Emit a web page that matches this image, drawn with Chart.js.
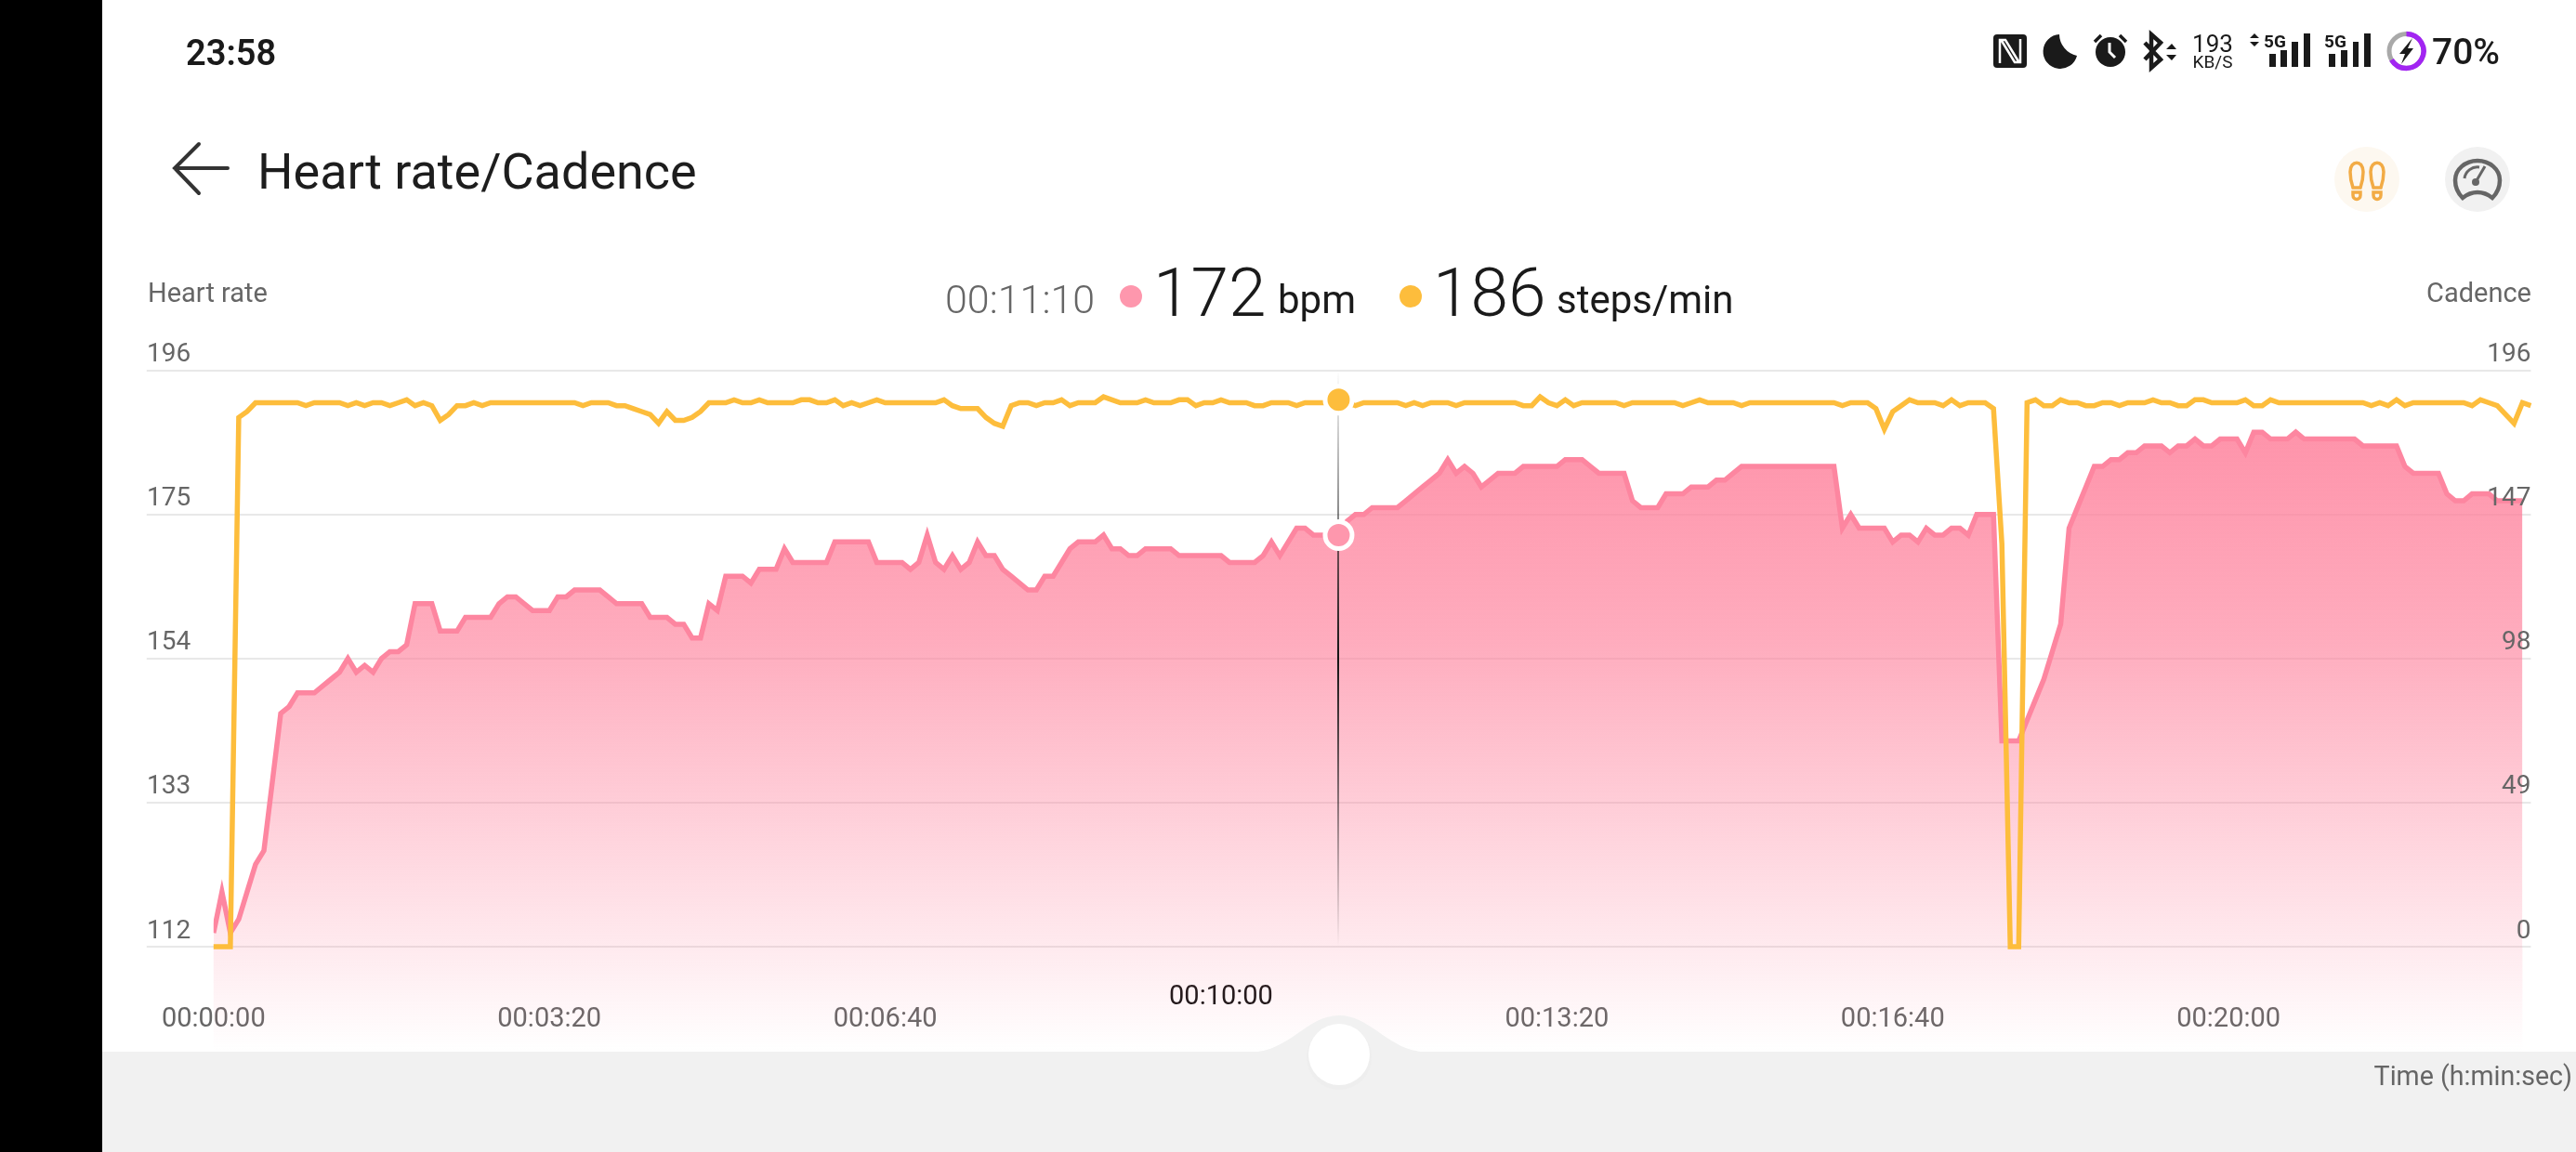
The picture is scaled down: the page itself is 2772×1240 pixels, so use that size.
<!DOCTYPE html>
<html>
<head>
<meta charset="utf-8">
<script src="https://cdn.jsdelivr.net/npm/chart.js@4/dist/chart.umd.min.js"></script>
<style>
  html, body { margin: 0; padding: 0; background: #fff; }
  body { width: 2772px; height: 1240px; overflow: hidden; position: relative; font-family: Roboto, sans-serif; }
  #myChart { position: absolute; left: 0; top: 0; }
  #overlay { position: absolute; left: 0; top: 0; pointer-events: none; }
  #overlay text { font-family: Roboto, sans-serif; }
</style>
</head>
<body>
<canvas id="myChart" width="2772" height="1240" style="width:2772px;height:1240px"></canvas>

<svg id="overlay" width="2772" height="1240" viewBox="0 0 2772 1240">
  <rect x="0" y="0" width="110" height="1240" fill="#000"/>

  <!-- bottom panel with slider -->
  <rect x="110" y="1132" width="2662" height="108" fill="#f1f1f1"/>
  <path d="M1346 1132.5 C1388 1132 1406 1093 1441 1093 C1476 1093 1494 1132 1536 1132.5 Z" fill="#f1f1f1"/>
  <circle cx="1441" cy="1138" r="35" fill="#ececec" opacity="0.6"/>
  <circle cx="1441" cy="1135" r="33" fill="#fff"/>
  <text x="2768" y="1168" text-anchor="end" font-size="28.6" fill="#666">Time (h:min:sec)</text>

  <!-- status bar -->
  <text x="200" y="70" font-size="38" font-weight="600" fill="#1a1a1a">23:58</text>
  <rect x="2145" y="37" width="36" height="36" rx="4" fill="#1a1a1a"/>
  <path d="M2152 68 V43 H2158 L2172 66 M2174 42 V67 H2168 L2154 44" fill="none" stroke="#fff" stroke-width="2.5"/>
  <path d="M2216 37 A18.5 18.5 0 1 0 2235 60 A24 24 0 0 1 2216 37 Z" fill="#1a1a1a"/>
  <circle cx="2271" cy="56" r="16" fill="#1a1a1a"/>
  <path d="M2270 46 V56 L2276 62" fill="none" stroke="#fff" stroke-width="3"/>
  <path d="M2254 45 L2261 38 M2288 45 L2281 38" stroke="#1a1a1a" stroke-width="3.5"/>
  <path d="M2308 46 L2325 64 L2315 73 V37 L2325 46 L2308 64" fill="none" stroke="#1a1a1a" stroke-width="4.5"/>
  <path d="M2331 53 L2337 47 L2342 53 Z M2331 59 L2337 65 L2342 59 Z" fill="#1a1a1a"/>
  <text x="2381" y="56" text-anchor="middle" font-size="26" fill="#1a1a1a">193</text>
  <text x="2381" y="73" text-anchor="middle" font-size="19" fill="#1a1a1a">KB/S</text>

  <path d="M2421 41 L2426 36 L2431 41 Z M2421 45 L2426 50 L2431 45 Z" fill="#1a1a1a"/>
  <text x="2436" y="51" font-size="19" font-weight="700" fill="#1a1a1a">5G</text>
  <rect x="2442" y="58" width="7" height="14" fill="#1a1a1a"/>
  <rect x="2454" y="54" width="7" height="18" fill="#1a1a1a"/>
  <rect x="2466" y="45" width="7" height="27" fill="#1a1a1a"/>
  <rect x="2479" y="36" width="7" height="36" fill="#1a1a1a"/>
  <text x="2501" y="51" font-size="19" font-weight="700" fill="#1a1a1a">5G</text>
  <rect x="2506" y="58" width="7" height="14" fill="#1a1a1a"/>
  <rect x="2519" y="54" width="7" height="18" fill="#1a1a1a"/>
  <rect x="2532" y="45" width="6" height="27" fill="#1a1a1a"/>
  <rect x="2544" y="36" width="7" height="36" fill="#1a1a1a"/>

  <circle cx="2589.5" cy="55" r="18.5" fill="none" stroke="#a9a9a9" stroke-width="5"/>
  <path d="M2589.5 36.5 A18.5 18.5 0 1 1 2573.5 64.3" fill="none" stroke="#a225f2" stroke-width="5.5"/>
  <path d="M2596 41 L2582 58 H2588 L2584 69 L2597 52 H2591 Z" fill="#1a1a1a"/>
  <text x="2617" y="69" font-size="39" font-weight="500" fill="#1a1a1a">70%</text>

  <!-- header -->
  <path d="M214 155 L188 181 L214 208 M188 181 H245" fill="none" stroke="#333" stroke-width="4" stroke-linecap="round"/>
  <text x="277" y="203" font-size="54" fill="#1d1d1d">Heart rate/Cadence</text>

  <circle cx="2547" cy="193" r="35" fill="#fdf8f0"/>
  <g fill="none" stroke="#f2ab45" stroke-width="3.5" transform="translate(0,3)">
    <path d="M2529 182 C2529 169 2543 169 2543 182 C2543 190 2541 196 2540 199 H2532 C2531 196 2529 190 2529 182 Z"/>
    <path d="M2532 204 H2540 V207 C2540 213 2532 213 2532 207 Z"/>
    <path d="M2551 182 C2551 169 2565 169 2565 182 C2565 190 2563 196 2562 199 H2554 C2553 196 2551 190 2551 182 Z"/>
    <path d="M2554 204 H2562 V207 C2562 213 2554 213 2554 207 Z"/>
  </g>
  <circle cx="2666" cy="193" r="35" fill="#f1f1f1"/>
  <g fill="none" stroke="#666" stroke-width="4.5">
    <path d="M2650 213 C2644 207 2642 200 2642 194 A24 21 0 0 1 2690 194 C2690 200 2688 207 2682 213 C2672 205 2660 205 2650 213 Z"/>
    <path d="M2652 192 A14 14 0 0 1 2668 180" stroke-width="3"/>
    <path d="M2664 196 L2674 179" stroke-width="3"/>
  </g>
  <circle cx="2664" cy="196" r="4" fill="#666"/>

  <!-- readout -->
  <text x="159" y="325" font-size="29" fill="#666">Heart rate</text>
  <text x="2724" y="325" text-anchor="end" font-size="29" fill="#666">Cadence</text>
  <text x="1017" y="337" font-size="43" font-weight="300" fill="#666">00:11:10</text>
  <circle cx="1217" cy="319" r="12" fill="#fe97ad"/>
  <text x="1241" y="340" font-size="73" font-weight="300" fill="#1a1a1a">172</text>
  <text x="1375" y="337" font-size="42" fill="#1a1a1a">bpm</text>
  <circle cx="1518" cy="319" r="12" fill="#fdbd3c"/>
  <text x="1542" y="340" font-size="73" font-weight="300" fill="#1a1a1a">186</text>
  <text x="1675" y="337" font-size="42" fill="#1a1a1a">steps/min</text>
</svg>

<script>
  var heartRate = [
    114,120,114,116,120,124,126,136,146,147,
    149,149,149,150,151,152,154,152,153,152,
    154,155,155,156,162,162,162,158,158,158,
    160,160,160,160,162,163,163,162,161,161,
    161,163,163,164,164,164,164,163,162,162,
    162,162,160,160,160,159,159,157,157,162,
    161,166,166,166,165,167,167,167,170,168,
    168,168,168,168,171,171,171,171,171,168,
    168,168,168,167,168,172,168,167,169,167,
    168,171,169,169,167,166,165,164,164,166,
    166,168,170,171,171,171,172,170,170,169,
    169,170,170,170,170,169,169,169,169,169,
    169,168,168,168,168,169,171,169,171,173,
    173,172,172,172,172,174,175,175,176,176,
    176,176,177,178,179,180,181,183,181,182,
    181,179,180,181,181,181,182,182,182,182,
    182,183,183,183,182,181,181,181,181,177,
    176,176,176,178,178,178,179,179,179,180,
    180,181,182,182,182,182,182,182,182,182,
    182,182,182,182,173,175,173,173,173,173,
    171,172,172,171,173,172,172,173,173,172,
    175,175,175,142,142,142,145,148,151,155,
    159,173,176,179,182,182,183,183,184,184,
    185,185,185,184,185,185,186,185,185,186,
    186,186,184,187,187,186,186,186,187,186,
    186,186,186,186,186,186,185,185,185,185,
    185,182,181,181,181,181,178,177,177,178,
    178,178,177,177,177,177
  ];
  var cadence = [
    0,0,0,180,182,185,185,185,185,185,
    185,184,185,185,185,185,184,185,184,185,
    185,184,185,186,184,185,184,179,181,184,
    184,185,184,185,185,185,185,185,185,185,
    185,185,185,185,184,185,185,185,184,184,
    183,182,181,178,182,179,179,180,182,185,
    185,185,186,185,185,186,185,185,185,185,
    186,186,185,185,186,184,185,184,185,186,
    185,185,185,185,185,185,185,186,184,183,
    183,183,180,178,177,184,185,185,184,185,
    185,186,184,185,185,185,187,186,185,185,
    185,186,185,185,185,186,186,184,185,185,
    186,185,185,185,184,184,185,185,185,184,
    185,185,185,185,186,185,184,185,185,185,
    185,185,184,185,184,185,185,185,184,185,
    185,185,185,185,185,185,184,184,187,185,
    184,186,184,185,185,185,185,185,184,185,
    185,185,185,185,185,184,185,186,185,185,
    185,185,184,185,185,185,185,185,185,185,
    185,185,185,185,184,185,185,185,183,176,
    182,184,186,185,185,185,184,186,184,185,
    185,185,183,137,0,0,185,186,184,184,
    186,185,185,184,184,185,185,184,185,185,
    185,186,185,185,184,184,186,186,185,185,
    185,185,186,184,184,186,185,185,185,185,
    185,185,185,185,185,185,185,184,185,184,
    186,184,185,185,185,185,185,185,185,184,
    186,185,184,181,178,185,184
  ];
  var timeTickSeconds = [0, 200, 400, 600, 800, 1000, 1200];
  var timeTickLabels = ["00:00:00", "00:03:20", "00:06:40", "00:10:00", "00:13:20", "00:16:40", "00:20:00"];
  var activeTickLabel = "00:10:00";
  var focusSecond = 670;
  var focusHeartRate = 172;
  var focusCadence = 186;
  var sampleSeconds = 5;

  var pink = "#fd86a0";
  var yellow = "#fdbd3c";
  var gridColor = "#e8e8e8";
  var fillExtra = 112; // the pink fade runs on under the time axis

  function points(values) {
    var out = [];
    for (var i = 0; i < values.length; i++) {
      out.push({ x: i * sampleSeconds, y: values[i] });
    }
    return out;
  }

  function pinkFade(chart) {
    var area = chart.chartArea;
    var g = chart.ctx.createLinearGradient(0, area.top, 0, area.bottom + fillExtra);
    g.addColorStop(0, "rgba(254,128,155,0.90)");
    g.addColorStop(0.4, "rgba(254,128,155,0.65)");
    g.addColorStop(1, "rgba(254,128,155,0)");
    return g;
  }

  // area below the axis, and the crosshair between the lines and the focus dots
  var extras = {
    id: "extras",
    beforeDatasetsDraw: function(chart) {
      var area = chart.chartArea;
      var left = chart.scales.x.getPixelForValue(0);
      var right = chart.scales.x.getPixelForValue((heartRate.length - 1) * sampleSeconds);
      chart.ctx.save();
      chart.ctx.fillStyle = pinkFade(chart);
      chart.ctx.fillRect(left, area.bottom, right - left, fillExtra);
      chart.ctx.restore();
    },
    afterDatasetDraw: function(chart, args) {
      if (args.index !== 1) return;
      var area = chart.chartArea;
      var x = Math.round(chart.scales.x.getPixelForValue(focusSecond));
      var ctx = chart.ctx;
      var g = ctx.createLinearGradient(0, area.top, 0, area.bottom);
      g.addColorStop(0, "rgba(20,20,20,0)");
      g.addColorStop(0.5, "rgba(20,20,20,1)");
      g.addColorStop(1, "rgba(20,20,20,0)");
      ctx.save();
      ctx.strokeStyle = g;
      ctx.lineWidth = 2;
      ctx.beginPath();
      ctx.moveTo(x, area.top);
      ctx.lineTo(x, area.bottom);
      ctx.stroke();
      ctx.restore();
    }
  };

  new Chart(document.getElementById("myChart").getContext("2d"), {
    type: "line",
    plugins: [extras],
    data: {
      datasets: [
        {
          label: "Heart rate",
          data: points(heartRate),
          yAxisID: "y",
          order: 4,
          borderColor: pink,
          borderWidth: 5.5,
          pointRadius: 0,
          tension: 0,
          fill: "start",
          backgroundColor: function(c) {
            return c.chart.chartArea ? pinkFade(c.chart) : "transparent";
          }
        },
        {
          label: "Cadence",
          data: points(cadence),
          yAxisID: "y2",
          order: 3,
          borderColor: yellow,
          borderWidth: 5.5,
          pointRadius: 0,
          tension: 0,
          clip: false,
          fill: false
        },
        {
          label: "Heart rate now",
          data: [{ x: focusSecond, y: focusHeartRate }],
          yAxisID: "y",
          order: 2,
          showLine: false,
          pointRadius: 14.5,
          pointBorderWidth: 5,
          pointBorderColor: "#fff",
          pointBackgroundColor: "#fe97ad"
        },
        {
          label: "Cadence now",
          data: [{ x: focusSecond, y: focusCadence }],
          yAxisID: "y2",
          order: 1,
          showLine: false,
          pointRadius: 14.5,
          pointBorderWidth: 5,
          pointBorderColor: "#fff",
          pointBackgroundColor: yellow
        }
      ]
    },
    options: {
      responsive: false,
      animation: false,
      events: [],
      layout: { padding: { left: 158, right: 48.6, top: 398.7, bottom: 121 } },
      plugins: { legend: { display: false }, tooltip: { enabled: false } },
      scales: {
        x: {
          type: "linear",
          min: 0,
          max: (cadence.length - 1) * sampleSeconds,
          afterBuildTicks: function(scale) {
            scale.ticks = timeTickSeconds.map(function(v) { return { value: v }; });
          },
          afterFit: function(scale) { scale.height = 100; },
          grid: { display: false },
          border: { display: false },
          ticks: {
            autoSkip: false,
            maxRotation: 0,
            padding: 35,
            font: { family: "Roboto", size: 29, lineHeight: "24px" },
            color: function(c) {
              return timeTickLabels[c.index] === activeTickLabel ? "#111" : "#666";
            },
            callback: function(v, i) {
              var label = timeTickLabels[i];
              return label === activeTickLabel ? [label, ""] : ["", label];
            }
          }
        },
        y: {
          position: "left",
          min: 112,
          max: 196,
          afterFit: function(scale) { scale.width = 71.8; },
          grid: { color: gridColor, lineWidth: 2, tickLength: 72, tickColor: gridColor },
          border: { display: false },
          ticks: {
            stepSize: 21,
            padding: 0,
            crossAlign: "far",
            labelOffset: -16.5,
            color: "#666",
            font: { family: "Roboto", size: 28 }
          }
        },
        y2: {
          position: "right",
          min: 0,
          max: 196,
          afterFit: function(scale) { scale.width = 0; },
          grid: { drawOnChartArea: false, drawTicks: false },
          border: { display: false },
          ticks: {
            z: 1,
            stepSize: 49,
            padding: 0,
            mirror: true,
            labelOffset: -16.5,
            color: "#666",
            font: { family: "Roboto", size: 28 }
          }
        }
      }
    }
  });
</script>
</body>
</html>
